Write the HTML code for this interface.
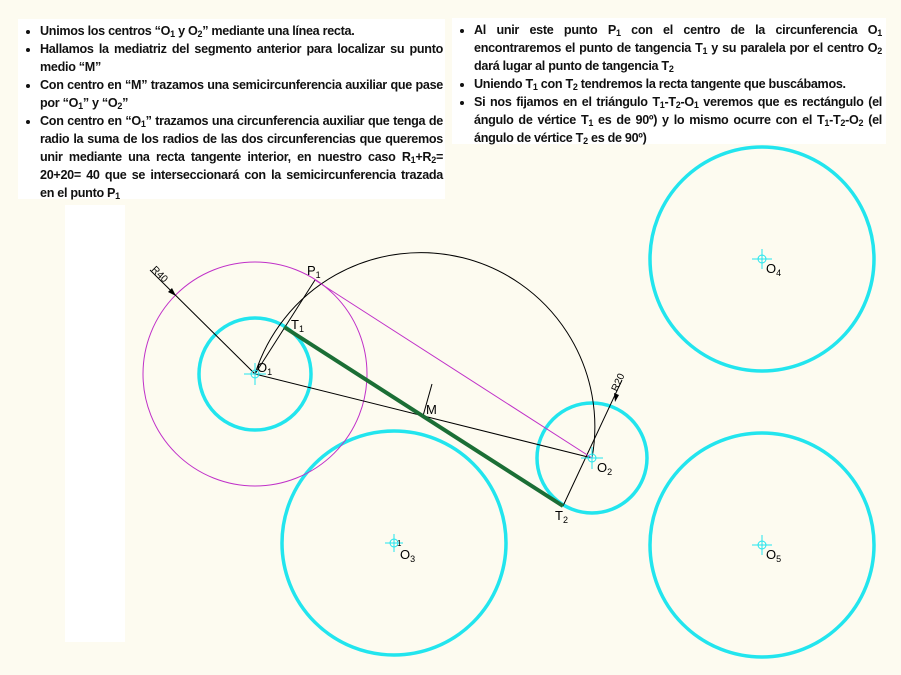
<!DOCTYPE html>
<html><head><meta charset="utf-8"><style>
html,body{margin:0;padding:0}
body{width:901px;height:675px;position:relative;background:#fdfbf0;overflow:hidden;font-family:"Liberation Sans",sans-serif}
.box{position:absolute;background:#fff;font-size:12.6px;line-height:18px;color:#111;font-weight:bold;letter-spacing:-0.3px}
.box ul{margin:0;padding:0 0 0 22px}
.box li{text-align:justify;padding-left:0}
sub{font-size:9px;vertical-align:-2px;line-height:0}
.strip{position:absolute;left:65px;top:205px;width:60px;height:437px;background:#fff}
svg{position:absolute;left:0;top:0}
</style></head><body>
<div class="strip"></div>
<div class="box" style="left:18px;top:19px;width:427px;height:180px;">
<ul style="padding-top:3px;padding-right:2px">
<li>Unimos los centros “O<sub>1</sub> y O<sub>2</sub>” mediante una línea recta.</li>
<li>Hallamos la mediatriz del segmento anterior para localizar su punto medio “M”</li>
<li>Con centro en “M” trazamos una semicircunferencia auxiliar que pase por “O<sub>1</sub>” y “O<sub>2</sub>”</li>
<li>Con centro en “O<sub>1</sub>” trazamos una circunferencia auxiliar que tenga de radio la suma de los radios de las dos circunferencias que queremos unir mediante una recta tangente interior, en nuestro caso R<sub>1</sub>+R<sub>2</sub>= 20+20= 40 que se interseccionará con la semicircunferencia trazada en el punto P<sub>1</sub></li>
</ul></div>
<div class="box" style="left:452px;top:18px;width:434px;height:126px;">
<ul style="padding-top:3px;padding-right:4px">
<li>Al unir este punto P<sub>1</sub> con el centro de la circunferencia O<sub>1</sub> encontraremos el punto de tangencia T<sub>1</sub> y su paralela por el centro O<sub>2</sub> dará lugar al punto de tangencia T<sub>2</sub></li>
<li>Uniendo T<sub>1</sub> con T<sub>2</sub> tendremos la recta tangente que buscábamos.</li>
<li>Si nos fijamos en el triángulo T<sub>1</sub>-T<sub>2</sub>-O<sub>1</sub> veremos que es rectángulo (el ángulo de vértice T<sub>1</sub> es de 90º) y lo mismo ocurre con el T<sub>1</sub>-T<sub>2</sub>-O<sub>2</sub> (el ángulo de vértice T<sub>2</sub> es de 90º)</li>
</ul></div>
<svg width="901" height="675" viewBox="0 0 901 675" font-family="Liberation Sans, sans-serif">
<g fill="none" stroke="#22e5ee" stroke-width="3.5">
<circle cx="255" cy="374" r="56"/>
<circle cx="592" cy="458" r="55"/>
<circle cx="394" cy="543" r="112"/>
<circle cx="762" cy="259" r="112"/>
<circle cx="762" cy="545" r="112"/>
</g>
<circle cx="255" cy="374" r="112" fill="none" stroke="#c030c8" stroke-width="1"/>
<path d="M255 374 A174 174 0 0 1 592 458" fill="none" stroke="#000" stroke-width="1"/>
<g stroke="#000" stroke-width="1" fill="none">
<line x1="255" y1="374" x2="592" y2="458"/>
<line x1="255" y1="374" x2="315" y2="280"/>
<line x1="432" y1="384" x2="423" y2="416"/>
<line x1="563" y1="506" x2="622" y2="380"/>
<line x1="150" y1="270" x2="255" y2="374"/>
</g>
<line x1="315" y1="280" x2="592" y2="458" stroke="#c030c8" stroke-width="1"/>
<line x1="284" y1="327" x2="563" y2="506" stroke="#1b6e35" stroke-width="4"/>
<polygon points="176,296 168,292 172,288" fill="#000"/>
<polygon points="615,402 614,393 619,395" fill="#000"/>
<g stroke="#22e5ee" stroke-width="1" fill="none">
<g transform="translate(255,374)"><line x1="-11" y1="0" x2="11" y2="0"/><line x1="0" y1="-11" x2="0" y2="11"/><circle r="4"/></g>
<g transform="translate(592,458)"><line x1="-11" y1="0" x2="11" y2="0"/><line x1="0" y1="-11" x2="0" y2="11"/><circle r="4"/></g>
<g transform="translate(394,543)"><line x1="-9" y1="0" x2="9" y2="0"/><line x1="0" y1="-9" x2="0" y2="9"/><circle r="4"/></g>
<g transform="translate(762,259)"><line x1="-10" y1="0" x2="10" y2="0"/><line x1="0" y1="-10" x2="0" y2="10"/><circle r="4"/></g>
<g transform="translate(762,545)"><line x1="-10" y1="0" x2="10" y2="0"/><line x1="0" y1="-10" x2="0" y2="10"/><circle r="4"/></g>
</g>
<g font-size="13" fill="#000">
<text x="257" y="372">O<tspan font-size="9" dy="3">1</tspan></text>
<text x="307" y="275">P<tspan font-size="9" dy="3">1</tspan></text>
<text x="291" y="329">T<tspan font-size="9" dy="3">1</tspan></text>
<text x="426" y="414">M</text>
<text x="597" y="472">O<tspan font-size="9" dy="3">2</tspan></text>
<text x="555" y="520">T<tspan font-size="9" dy="3">2</tspan></text>
<text x="400" y="559">O<tspan font-size="9" dy="3">3</tspan></text>
<text x="766" y="273">O<tspan font-size="9" dy="3">4</tspan></text>
<text x="766" y="559">O<tspan font-size="9" dy="3">5</tspan></text>
<text x="397" y="546" font-size="8">1</text>
<text font-size="10" transform="translate(151,270) rotate(45)">R40</text>
<text font-size="10" transform="translate(617,392) rotate(-65)">R20</text>
</g>
</svg>
</body></html>
